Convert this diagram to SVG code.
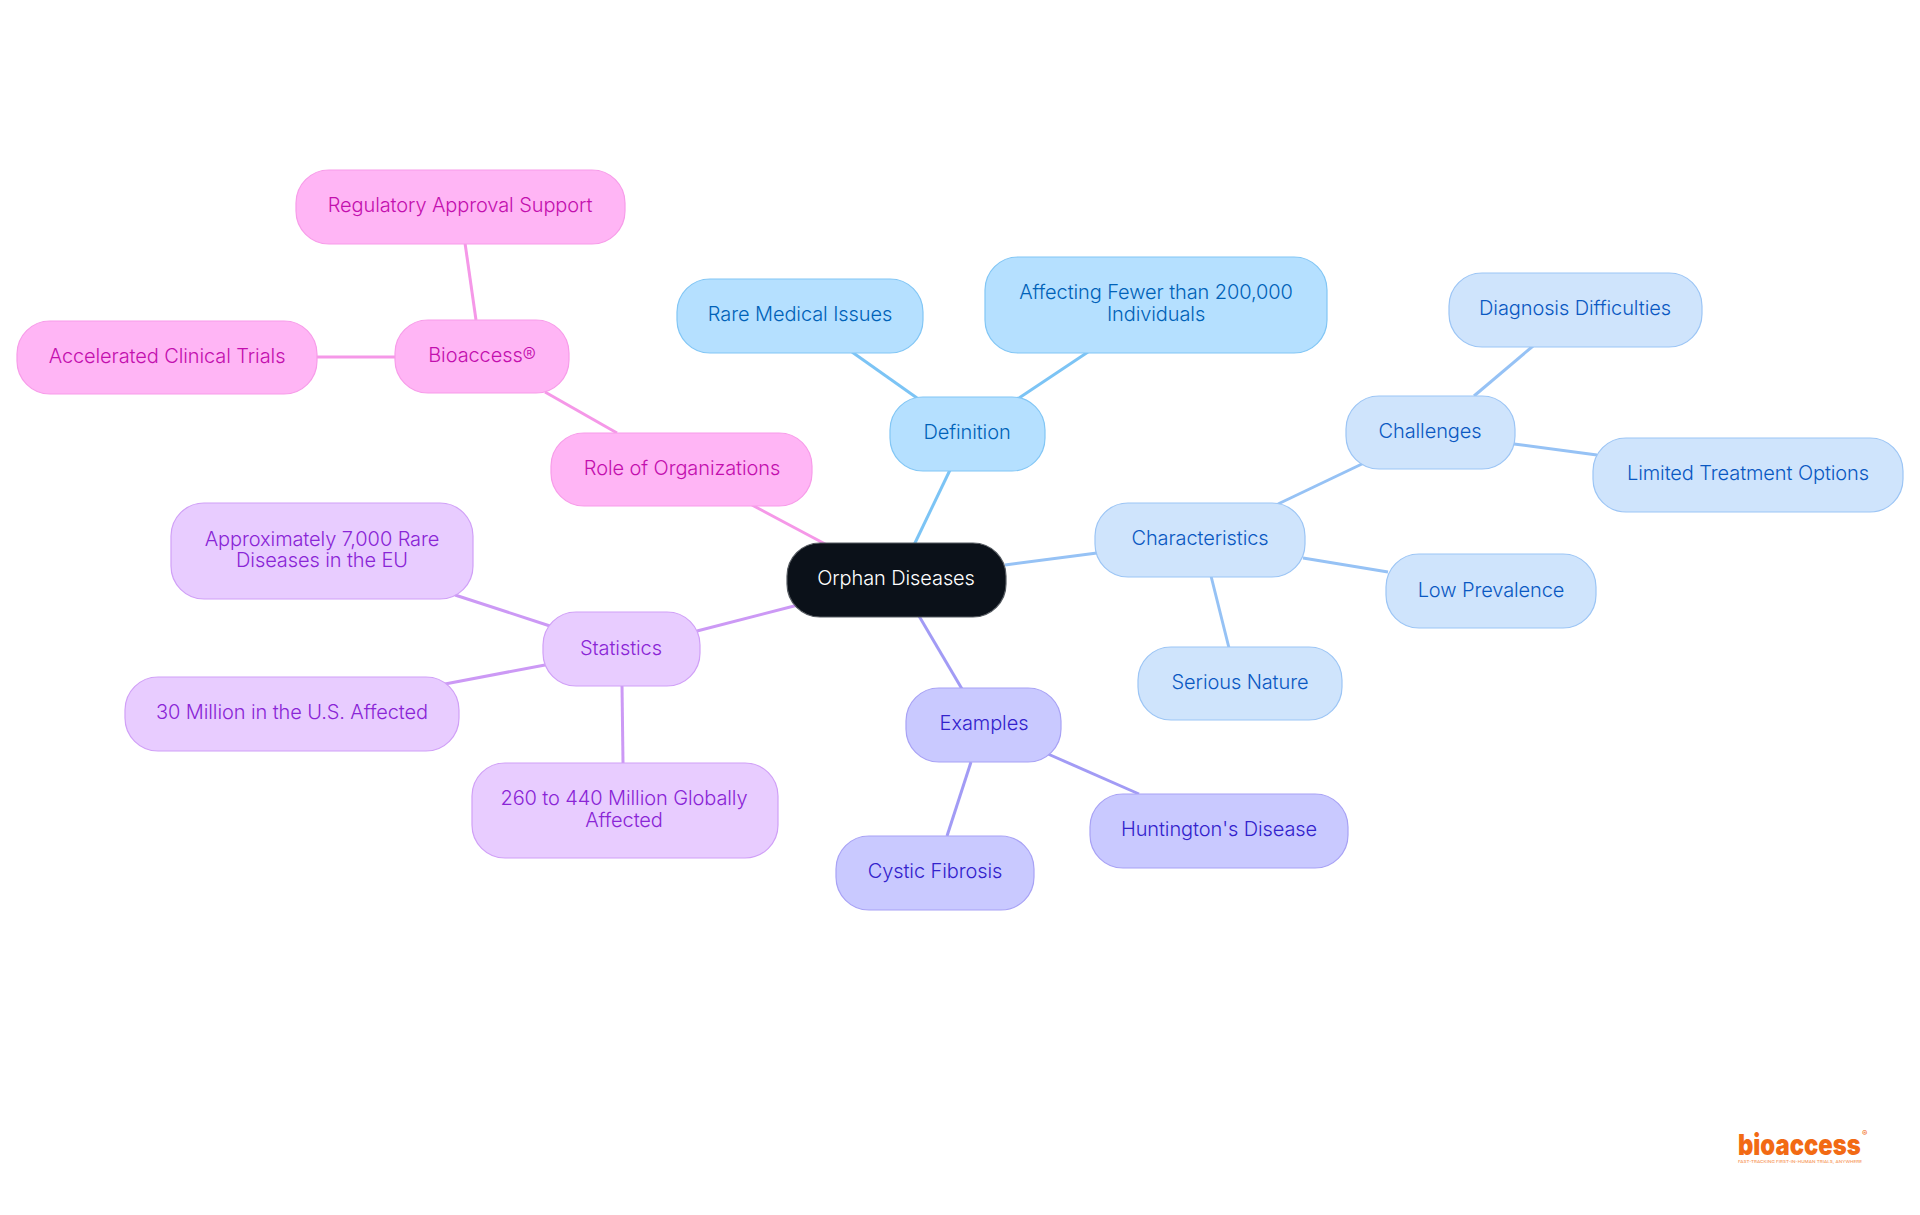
<svg xmlns="http://www.w3.org/2000/svg" width="1920" height="1215" viewBox="0 0 1920 1215">
<style>
text{font-family:"Inter","Noto Sans","Liberation Sans",sans-serif;font-size:20px;font-weight:350;letter-spacing:-.1px;text-anchor:middle}
rect{stroke-width:1.2}
#connectors line{stroke-width:3;fill:none}
.a rect{fill:#b5e0ff;stroke:#82c6f5}.a text{fill:#0062b8}
.b rect{fill:#cfe4fc;stroke:#9cc5f5}.b text{fill:#0a58c2}
.c rect{fill:#c9c9ff;stroke:#a8a2f5}.c text{fill:#3322cc}
.d rect{fill:#e8ccff;stroke:#d0a0f7}.d text{fill:#8a25d6}
.e rect{fill:#ffb5f5;stroke:#f79ce9}.e text{fill:#c30fae}
.la{stroke:#7cc4f5}.lb{stroke:#96c2f5}.lc{stroke:#a29bf5}.ld{stroke:#cc99f5}.le{stroke:#f598e8}
</style>
<rect width="1920" height="1215" fill="#fff" stroke="none"/>
<g id="connectors">
<line class="la" x1="914" y1="545" x2="950" y2="470"/>
<line class="la" x1="917" y1="398" x2="852" y2="352"/>
<line class="la" x1="1019" y1="398" x2="1088" y2="352"/>
<line class="lb" x1="1005" y1="565" x2="1097" y2="553"/>
<line class="lb" x1="1278" y1="504" x2="1364" y2="463"/>
<line class="lb" x1="1474" y1="396" x2="1533" y2="346"/>
<line class="lb" x1="1514" y1="444" x2="1597" y2="455"/>
<line class="lb" x1="1303" y1="558" x2="1388" y2="572"/>
<line class="lb" x1="1211" y1="576" x2="1229" y2="648"/>
<line class="lc" x1="919" y1="616" x2="962" y2="689"/>
<line class="lc" x1="1048" y1="754" x2="1139" y2="794"/>
<line class="lc" x1="971" y1="762" x2="947" y2="836"/>
<line class="ld" x1="798" y1="605" x2="697" y2="631"/>
<line class="ld" x1="550" y1="626" x2="455" y2="595"/>
<line class="ld" x1="545" y1="665" x2="445" y2="684"/>
<line class="ld" x1="622" y1="685" x2="623" y2="763"/>
<line class="le" x1="827" y1="545" x2="752" y2="505"/>
<line class="le" x1="617" y1="433" x2="545" y2="392"/>
<line class="le" x1="476" y1="320" x2="465" y2="243"/>
<line class="le" x1="395" y1="357" x2="317" y2="357"/>
</g>
<g id="root"><rect x="787" y="543" width="219" height="74" rx="33" fill="#0b1119" stroke="#555a60"/><text x="896" y="585" fill="#fff">Orphan Diseases</text></g>
<g id="definition" class="a"><rect x="890" y="397" width="155" height="74" rx="33"/><text x="967" y="439">Definition</text></g>
<g id="rare" class="a"><rect x="677" y="279" width="246" height="74" rx="33"/><text x="800" y="321">Rare Medical Issues</text></g>
<g id="affecting" class="a"><rect x="985" y="257" width="342" height="96" rx="33"/><text x="1156" y="299">Affecting Fewer than 200,000</text><text x="1156" y="321">Individuals</text></g>
<g id="characteristics" class="b"><rect x="1095" y="503" width="210" height="74" rx="33"/><text x="1200" y="545">Characteristics</text></g>
<g id="challenges" class="b"><rect x="1346" y="396" width="169" height="73" rx="33"/><text x="1430" y="438">Challenges</text></g>
<g id="diagnosis" class="b"><rect x="1449" y="273" width="253" height="74" rx="33"/><text x="1575" y="315">Diagnosis Difficulties</text></g>
<g id="limited" class="b"><rect x="1593" y="438" width="310" height="74" rx="33"/><text x="1748" y="480">Limited Treatment Options</text></g>
<g id="low" class="b"><rect x="1386" y="554" width="210" height="74" rx="33"/><text x="1491" y="597">Low Prevalence</text></g>
<g id="serious" class="b"><rect x="1138" y="647" width="204" height="73" rx="33"/><text x="1240" y="689">Serious Nature</text></g>
<g id="examples" class="c"><rect x="906" y="688" width="155" height="74" rx="33"/><text x="984" y="730">Examples</text></g>
<g id="huntington" class="c"><rect x="1090" y="794" width="258" height="74" rx="33"/><text x="1219" y="836">Huntington's Disease</text></g>
<g id="cystic" class="c"><rect x="836" y="836" width="198" height="74" rx="33"/><text x="935" y="878">Cystic Fibrosis</text></g>
<g id="statistics" class="d"><rect x="543" y="612" width="157" height="74" rx="33"/><text x="621" y="655">Statistics</text></g>
<g id="approx" class="d"><rect x="171" y="503" width="302" height="96" rx="33"/><text x="322" y="546">Approximately 7,000 Rare</text><text x="322" y="567">Diseases in the EU</text></g>
<g id="us" class="d"><rect x="125" y="677" width="334" height="74" rx="33"/><text x="292" y="719">30 Million in the U.S. Affected</text></g>
<g id="global" class="d"><rect x="472" y="763" width="306" height="95" rx="33"/><text x="624" y="805">260 to 440 Million Globally</text><text x="624" y="827">Affected</text></g>
<g id="role" class="e"><rect x="551" y="433" width="261" height="73" rx="33"/><text x="682" y="475">Role of Organizations</text></g>
<g id="bioaccess" class="e"><rect x="395" y="320" width="174" height="73" rx="33"/><text x="482" y="362">Bioaccess®</text></g>
<g id="regulatory" class="e"><rect x="296" y="170" width="329" height="74" rx="33"/><text x="460" y="212">Regulatory Approval Support</text></g>
<g id="accelerated" class="e"><rect x="17" y="321" width="300" height="73" rx="33"/><text x="167" y="363">Accelerated Clinical Trials</text></g>
<g id="logo"><text transform="translate(1738 1155) scale(.82 1)" style="font-size:29px;font-weight:900;letter-spacing:0;text-anchor:start" fill="#f26a14">bioaccess</text><text x="1862" y="1136" style="font-size:8px;font-weight:500;letter-spacing:0;text-anchor:start" fill="#f26a14">®</text><text x="1738" y="1163" textLength="124" lengthAdjust="spacingAndGlyphs" style="font-size:4px;font-weight:500;letter-spacing:0;text-anchor:start" fill="#f79a5e">FAST-TRACKING FIRST-IN-HUMAN TRIALS, ANYWHERE</text></g>
</svg>
